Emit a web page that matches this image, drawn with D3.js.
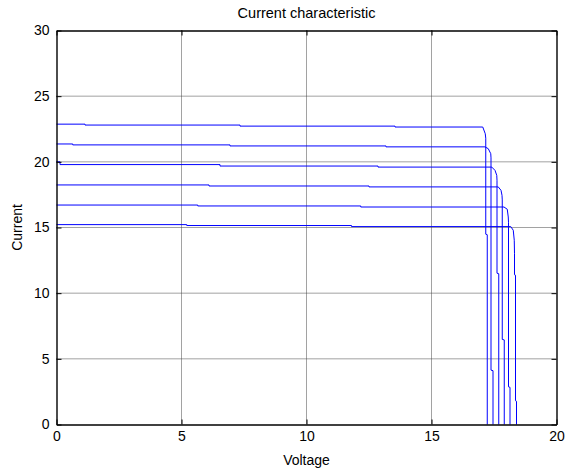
<!DOCTYPE html>
<html>
<head>
<meta charset="utf-8">
<script src="https://cdn.jsdelivr.net/npm/d3@7"></script>
<style>
  body { margin: 0; background: #fff; }
  text { font-family: "Liberation Sans", Arial, sans-serif; fill: #000; }
</style>
</head>
<body>
<script>
// voltage / current pairs, one array per curve
var curve1 = [[0,22.87],[1.14,22.87],[1.14,22.80],[7.34,22.80],[7.34,22.72],[13.54,22.72],[13.54,22.65],
  [17.05,22.65],[17.15,22.14],[17.17,21.8],[17.17,14.49],[17.23,14.45],[17.23,0]];
var curve2 = [[0,21.36],[0.65,21.36],[0.65,21.29],[6.94,21.29],[6.94,21.21],[13.18,21.21],[13.18,21.14],
  [17.14,21.14],[17.27,21.0],[17.37,20.62],[17.38,20.3],[17.38,4.14],[17.46,4.1],[17.46,0]];
var curve3 = [[0,20.0],[0.14,20.0],[0.14,19.79],[6.54,19.79],[6.54,19.68],[12.86,19.68],[12.86,19.6],
  [17.41,19.6],[17.54,19.35],[17.61,18.97],[17.62,18.6],[17.62,11.52],[17.69,11.48],[17.69,0]];
var curve4 = [[0,18.24],[6.1,18.24],[6.1,18.16],[12.5,18.16],[12.5,18.09],
  [17.67,18.09],[17.78,17.83],[17.82,17.45],[17.83,17.1],[17.83,6.48],[17.91,6.44],[17.91,0]];
var curve5 = [[0,16.71],[5.65,16.71],[5.65,16.64],[12.17,16.64],[12.17,16.56],
  [17.9,16.56],[18.03,16.39],[18.07,15.8],[18.08,15.4],[18.08,2.87],[18.14,2.83],[18.14,0]];
var curve6 = [[0,15.22],[5.21,15.22],[5.21,15.15],[11.8,15.15],[11.8,15.07],
  [18.17,15.07],[18.27,14.79],[18.31,14.03],[18.32,13.0],[18.32,11.4],[18.36,11.37],[18.36,1.81],[18.4,1.77],[18.4,0]];
var curves = [curve1, curve2, curve3, curve4, curve5, curve6];

var xTicks = [0,5,10,15,20];
var yTicks = [0,5,10,15,20,25,30];

(function(){
    var W = 568, H = 473;
    var pLeft = 56.5, pRight = 556.5, pTop = 30.5, pBottom = 424.5;

    var svg = d3.select("body").append("svg")
        .attr("width", W).attr("height", H);

    svg.append("rect").attr("width", W).attr("height", H).attr("fill", "#fff");

    var x = d3.scaleLinear().domain([0,20]).range([pLeft, pRight]);
    var y = d3.scaleLinear().domain([0,30]).range([pBottom, pTop]);

    // grid, dotted
    svg.append("g").selectAll("line").data(xTicks.slice(1,-1)).enter()
        .append("line")
        .attr("x1", function(d){ return x(d); }).attr("x2", function(d){ return x(d); })
        .attr("y1", pTop).attr("y2", pBottom)
        .attr("stroke", "#444").attr("stroke-dasharray", "1,1");
    svg.append("g").selectAll("line").data(yTicks.slice(1,-1)).enter()
        .append("line")
        .attr("y1", function(d){ return y(d); }).attr("y2", function(d){ return y(d); })
        .attr("x1", pLeft).attr("x2", pRight)
        .attr("stroke", "#444").attr("stroke-dasharray", "1,1");

    // curves
    var line = d3.line()
        .x(function(d){ return x(d[0]); })
        .y(function(d){ return y(d[1]); });

    svg.append("g").selectAll("path").data(curves).enter()
        .append("path")
        .attr("d", line)
        .attr("fill", "none")
        .attr("stroke", "#0000ff")
        .attr("stroke-width", 1);

    // axes, ticks inward on all four sides
    var xb = d3.axisBottom(x).tickValues(xTicks).tickSizeInner(-5).tickSizeOuter(0).tickPadding(7);
    var xt = d3.axisTop(x).tickValues(xTicks).tickSizeInner(-5).tickSizeOuter(0).tickFormat("");
    var yl = d3.axisLeft(y).tickValues(yTicks).tickSizeInner(-5).tickSizeOuter(0).tickPadding(7);
    var yr = d3.axisRight(y).tickValues(yTicks).tickSizeInner(-5).tickSizeOuter(0).tickFormat("");

    function styleAxis(g) {
        g.select(".domain").attr("stroke", "#000").attr("stroke-width", 1.4);
        g.selectAll(".tick line").attr("stroke", "#000");
        g.selectAll(".tick text").attr("font-size", 14)
            .attr("font-family", "'Liberation Sans', Arial, sans-serif").attr("fill", "#000");
    }

    svg.append("g").attr("transform", "translate(0," + pBottom + ")").call(xb).call(styleAxis);
    svg.append("g").attr("transform", "translate(0," + pTop + ")").call(xt).call(styleAxis);
    svg.append("g").attr("transform", "translate(" + pLeft + ",0)").call(yl).call(styleAxis);
    svg.append("g").attr("transform", "translate(" + pRight + ",0)").call(yr).call(styleAxis);

    // labels
    svg.append("text").attr("x", (pLeft + pRight) / 2).attr("y", 18)
        .attr("text-anchor", "middle").attr("font-size", 14.5).text("Current characteristic");
    svg.append("text").attr("x", (pLeft + pRight) / 2).attr("y", 465)
        .attr("text-anchor", "middle").attr("font-size", 14).text("Voltage");
    svg.append("text")
        .attr("transform", "translate(22," + (pTop + pBottom) / 2 + ") rotate(-90)")
        .attr("text-anchor", "middle").attr("font-size", 14).text("Current");
})();
</script>
</body>
</html>
